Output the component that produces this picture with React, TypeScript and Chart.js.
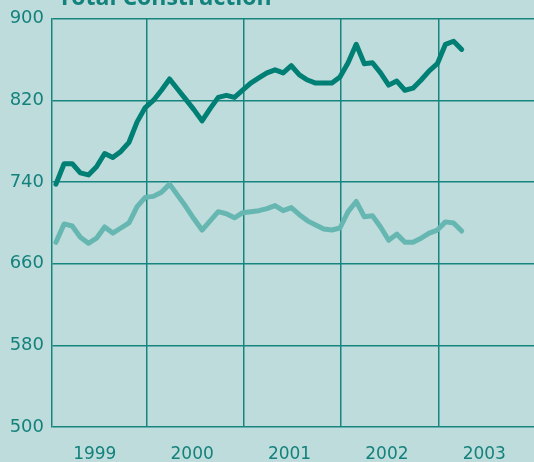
import { useEffect, useRef } from 'react';
import { Chart, registerables } from 'chart.js';

Chart.register(...registerables);

const titleText = 'Total Construction';
const startYear = 1999;
const monthOffset = 0.85;
const darkSeries = [
  738, 758, 758, 749, 747, 755, 768, 764, 770, 779,
  799, 813, 820, 830, 841, 831, 821, 811, 800, 812,
  823, 825, 823, 830, 837, 842, 847, 850, 847, 854,
  845, 840, 837, 837, 837, 843, 857, 875, 856, 857,
  847, 835, 839, 830, 832, 840, 849, 856, 875, 878,
  870,
];
const lightSeries = [
  681, 699, 697, 686, 680, 685, 696, 690, 695, 700,
  716, 725, 726, 730, 738, 727, 716, 704, 693, 702,
  711, 709, 705, 710, 711, 712, 714, 717, 712, 715,
  708, 702, 698, 694, 693, 695, 711, 721, 706, 707,
  696, 683, 689, 681, 681, 685, 690, 693, 701, 700,
  692,
];
const yTicks = [500, 580, 660, 740, 820, 900];
const yearLabels = ['1999', '2000', '2001', '2002', '2003'];
const yearBoundaries = [2000, 2001, 2002, 2003];
const xMin = 1999.03;
const xMax = 2003.98;

const BG = '#bfdcdc';
const GRID = '#16857f';
const TEXT = '#13827c';
const DARK = '#007f74';
const LIGHT = '#66b6b1';
const FONT = "'DejaVu Sans', 'Open Sans', sans-serif";
const TITLE_FONT = "'Open Sans', 'DejaVu Sans', sans-serif";

const toPoints = (vals: number[]) =>
  vals.map((v, i) => ({ x: startYear + (i + monthOffset) / 12, y: v }));

const titlePlugin = {
  id: 'cornerTitle',
  afterDraw(chart: any) {
    const ctx = chart.ctx;
    ctx.save();
    ctx.font = `bold 23px ${TITLE_FONT}`;
    ctx.fillStyle = TEXT;
    ctx.textAlign = 'left';
    ctx.textBaseline = 'alphabetic';
    ctx.fillText(titleText, 58, 5);
    ctx.restore();
  },
};

export default function App() {
  const ref = useRef<HTMLCanvasElement | null>(null);

  useEffect(() => {
    document.body.style.margin = '0';
    if (!ref.current) return;
    const chart = new Chart(ref.current, {
      type: 'line',
      data: {
        datasets: [
          {
            label: 'Total Construction',
            data: toPoints(darkSeries),
            borderColor: DARK,
            borderWidth: 5,
            pointRadius: 0,
            borderJoinStyle: 'round',
            borderCapStyle: 'round',
            tension: 0,
            xAxisID: 'x',
          },
          {
            label: 'Second series',
            data: toPoints(lightSeries),
            borderColor: LIGHT,
            borderWidth: 5,
            pointRadius: 0,
            borderJoinStyle: 'round',
            borderCapStyle: 'round',
            tension: 0,
            xAxisID: 'x',
          },
        ],
      },
      options: {
        animation: false,
        responsive: false,
        maintainAspectRatio: false,
        layout: { padding: { top: 18, left: 0, right: 0, bottom: 0 } },
        plugins: {
          legend: { display: false },
          tooltip: { enabled: false },
          title: { display: false },
        },
        scales: {
          x: {
            type: 'linear',
            position: 'bottom',
            min: xMin,
            max: xMax,
            afterBuildTicks: (scale: any) => {
              scale.ticks = yearBoundaries.map((v) => ({ value: v }));
            },
            afterFit: (scale: any) => {
              scale.height = 0;
            },
            ticks: { display: false },
            grid: { color: GRID, lineWidth: 1.5, drawTicks: false },
            border: { display: false },
          },
          xl: {
            type: 'linear',
            position: 'bottom',
            min: xMin,
            max: xMax,
            afterBuildTicks: (scale: any) => {
              scale.ticks = yearLabels.map((l) => ({ value: Number(l) + 0.5 }));
            },
            afterFit: (scale: any) => {
              scale.height = 35;
            },
            ticks: {
              color: TEXT,
              font: { family: FONT, size: 17 },
              padding: 17,
              labelOffset: -3,
              maxRotation: 0,
              autoSkip: false,
              callback: (v: any) => String(Math.floor(Number(v))),
            },
            grid: { display: false, drawTicks: false },
            border: { display: false },
          },
          y: {
            type: 'linear',
            min: 500,
            max: 900,
            afterBuildTicks: (scale: any) => {
              scale.ticks = yTicks.map((v) => ({ value: v }));
            },
            afterFit: (scale: any) => {
              scale.width = 52;
            },
            ticks: {
              color: TEXT,
              font: { family: FONT, size: 18 },
              padding: 8,
            },
            grid: { color: GRID, lineWidth: 1.5, drawTicks: false },
            border: { display: true, color: GRID, width: 1.5 },
          },
        },
      },
      plugins: [titlePlugin],
    } as any);
    return () => chart.destroy();
  }, []);

  return (
    <div style={{ width: 534, height: 462, background: BG }}>
      <canvas ref={ref} width={534} height={462} style={{ display: 'block' }} />
    </div>
  );
}
